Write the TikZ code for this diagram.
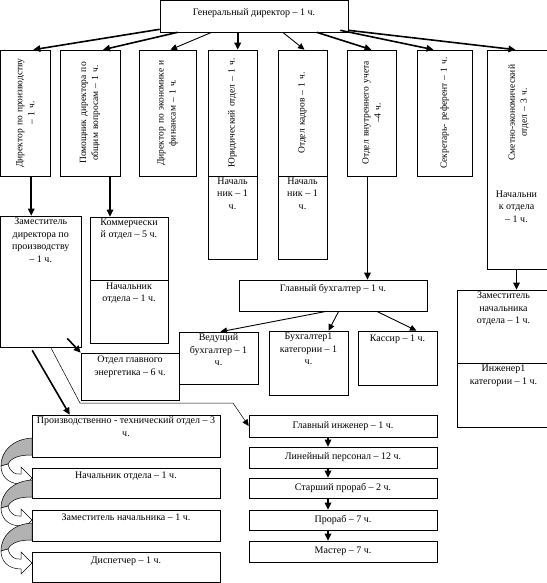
\documentclass[tikz,border=0pt]{standalone}
\usepackage{fontspec}
\setmainfont{Liberation Serif}
\usetikzlibrary{positioning, fit, calc, arrows.meta}

\begin{document}
\begin{tikzpicture}[
		x=1pt, y=-1pt,
		font=\fontsize{10}{12.5}\selectfont,
		% Boxes and their texts
		box/.style={draw, line width=0.6pt, inner sep=0pt},
		txt/.style={align=center, inner sep=1pt},
		vtxt/.style={rotate=90, align=center, text width=124pt, inner sep=0pt,
			font=\fontsize{9.5}{12}\selectfont},
		% Connector styles
		heavy/.style={-{Triangle[length=7pt, width=6.5pt]}, line width=1.6pt},
		light/.style={-{Triangle[length=6.5pt, width=6pt]}, line width=0.9pt},
		hair/.style={-{Triangle[length=6.5pt, width=6pt]}, line width=0.5pt},
		% Curved block arrows on the left
		turnback/.style={draw, line width=0.5pt, fill=black!30},
		turnfront/.style={draw, line width=0.5pt, fill=white}
		]
		\useasboundingbox (0,0) rectangle (546,583);
		
		% ==============================================================================
		% 1. GENERAL DIRECTOR
		% ==============================================================================
		\node[box, fit={(160,0.5)(348,32)}] (gd) {};
		\node[txt] (gd-t) at ([yshift=3pt]gd.center) {Генеральный директор – 1 ч.};
		
		% ==============================================================================
		% 2. SECOND LEVEL (vertical boxes)
		% ==============================================================================
		\node[box, fit={(0.5,50)(50,176)}] (dprod) {};
		\node[vtxt] (dprod-t) at (dprod) {Директор по производству\\– 1 ч.};
		
		\node[box, fit={(60,50)(120,176)}] (pom) {};
		\node[vtxt] (pom-t) at (pom) {Помощник директора по\\общим вопросам – 1 ч.};
		
		\node[box, fit={(139,50)(196,176)}] (econ) {};
		\node[vtxt] (econ-t) at (econ) {Директор по экономике и\\финансам – 1 ч.};
		
		\node[box, fit={(208,50)(257,176)}] (jur) {};
		\node[vtxt] (jur-t) at (jur) {Юридический отдел – 1 ч.};
		\node[box, fit={(208,176)(257,259)}] (jurn) {};
		\node[txt, below=1pt of jurn.north] (jurn-t) {Началь\\ник – 1\\ч.};
		
		\node[box, fit={(278,50)(327,176)}] (kadr) {};
		\node[vtxt] (kadr-t) at (kadr) {Отдел кадров – 1 ч.};
		\node[box, fit={(278,176)(327,259)}] (kadrn) {};
		\node[txt, below=1pt of kadrn.north] (kadrn-t) {Началь\\ник – 1\\ч.};
		
		\node[box, fit={(347,50)(396,176)}] (vnutr) {};
		\node[vtxt] (vnutr-t) at (vnutr) {Отдел внутреннего учета\\–4 ч.};
		
		\node[box, fit={(417,50)(472,176)}] (sekr) {};
		\node[vtxt] (sekr-t) at (sekr) {Секретарь- референт – 1 ч.};
		
		\node[box, fit={(487,50)(550,269)}] (smet) {};
		\node[vtxt] (smet-t) at ($(smet.north)+(0,63)$) {Сметно-экономический\\отдел – 3 ч.};
		\node[txt, anchor=north] (smetn-t) at ($(smet.north)+(-2,140)$) {Начальни\\к отдела\\– 1 ч.};
		
		% ==============================================================================
		% 3. THIRD LEVEL
		% ==============================================================================
		\node[box, fit={(0.5,216)(81,347)}] (zam) {};
		\node[txt, below=1pt of zam.north] (zam-t) {Заместитель\\директора по\\производству\\– 1 ч.};
		
		\node[box, fit={(90,217)(168,280)}] (komm) {};
		\node[txt, below=1pt of komm.north] (komm-t) {Коммерчески\\й отдел – 5 ч.};
		\node[box, fit={(90,280)(168,343)}] (kommn) {};
		\node[txt, below=2pt of kommn.north] (kommn-t) {Начальник\\отдела – 1 ч.};
		
		\node[box, fit={(239,280)(427,311)}] (buh) {};
		\node[txt, below=3pt of buh.north] (buh-t) {Главный бухгалтер – 1 ч.};
		
		\node[box, fit={(179,332)(258,384)}] (ved) {};
		\node[txt, below=1pt of ved.north] (ved-t) {Ведущий\\бухгалтер – 1\\ч.};
		\node[box, fit={(269,331)(348,395)}] (buh1) {};
		\node[txt, below=1pt of buh1.north] (buh1-t) {Бухгалтер1\\категории – 1\\ч.};
		\node[box, fit={(358,331)(437,385)}] (kass) {};
		\node[txt, below=3pt of kass.north] (kass-t) {Кассир – 1 ч.};
		
		\node[box, fit={(81,353)(179,400)}] (energ) {};
		\node[txt, below=2pt of energ.north] (energ-t) {Отдел главного\\энергетика – 6 ч.};
		
		\node[box, fit={(457,290)(550,363)}] (zamnach) {};
		\node[txt, below=1pt of zamnach.north] (zamnach-t) {Заместитель\\начальника\\отдела – 1 ч.};
		\node[box, fit={(457,363)(550,427)}] (ing) {};
		\node[txt, below=1pt of ing.north] (ing-t) {Инженер1\\категории – 1 ч.};
		
		% ==============================================================================
		% 4. PRODUCTION CHAINS
		% ==============================================================================
		\node[box, fit={(32,415)(220,457)}] (pto) {};
		\node[txt, below=1pt of pto.north] (pto-t) {Производственно - технический отдел – 3\\ч.};
		\node[box, fit={(32,468)(220,498)}] (nach) {};
		\node[txt, below=3pt of nach.north] (nach-t) {Начальник отдела – 1 ч.};
		\node[box, fit={(32,510)(220,541)}] (zamn) {};
		\node[txt, below=3pt of zamn.north] (zamn-t) {Заместитель начальника – 1 ч.};
		\node[box, fit={(32,552)(220,582)}] (disp) {};
		\node[txt, below=4pt of disp.north] (disp-t) {Диспетчер – 1 ч.};
		
		\node[box, fit={(249,415)(437,437)}] (gi) {};
		\node[txt] (gi-t) at (gi) {Главный инженер – 1 ч.};
		\node[box, fit={(249,447)(437,468)}] (lin) {};
		\node[txt] (lin-t) at (lin) {Линейный персонал – 12 ч.};
		\node[box, fit={(249,478)(437,498)}] (stpr) {};
		\node[txt] (stpr-t) at (stpr) {Старший прораб – 2 ч.};
		\node[box, fit={(249,510)(437,530)}] (pr) {};
		\node[txt] (pr-t) at (pr) {Прораб – 7 ч.};
		\node[box, fit={(249,541)(437,562)}] (mast) {};
		\node[txt] (mast-t) at (mast) {Мастер – 7 ч.};
		
		% ==============================================================================
		% 5. ARROWS
		% ==============================================================================
		\draw[heavy] ($(gd.south west)+(0,-3)$) -- ($(dprod.north)+(8,0)$);
		\draw[heavy] ($(gd.south west)+(18,0)$) -- ($(pom.north)+(13,0)$);
		\draw[light] ($(gd.south west)+(52,0)$) -- ($(econ.north)+(3,0)$);
		\coordinate (gd-j) at ($(gd.south west)+(78,0)$);
		\draw[heavy] (gd-j) -- (gd-j |- jur.north);
		\draw[light] ($(gd.south west)+(123,0)$) -- ($(kadr.north)+(2,0)$);
		\draw[heavy] ($(gd.south west)+(157,0)$) -- (vnutr.north);
		\draw[heavy] ($(gd.south east)+(-8,-2)$) -- ($(sekr.north)+(-11,0)$);
		\draw[heavy] ($(gd.south east)+(0,-2)$) -- ($(smet.north)+(-3,0)$);
		
		\coordinate (dp-s) at ($(dprod.south)+(6,0)$);
		\draw[heavy] (dp-s) -- (dp-s |- zam.north);
		\coordinate (pm-s) at ($(pom.south)+(20,0)$);
		\draw[heavy] (pm-s) -- (pm-s |- komm.north);
		\coordinate (vu-s) at ($(vnutr.south)+(-4,0)$);
		\draw[heavy] (vu-s) -- (vu-s |- buh.north);
		\coordinate (sm-s) at ($(smet.south)+(-2,0)$);
		\draw[heavy] (sm-s) -- (sm-s |- zamnach.north);
		
		\draw[light] ($(buh.south west)+(88,0)$) -- ($(ved.north)+(2,0)$);
		\draw[light] ($(buh.south west)+(100,0)$) -- ($(buh1.north)+(20,0)$);
		\draw[light] ($(buh.south west)+(138,0)$) -- ($(kass.north)+(19,0)$);
		
		\draw[heavy] ($(zam.south west)+(67,-9)$) -- (energ.north west);
		\draw[heavy] ($(zam.south west)+(32,3)$) -- ($(pto.north west)+(38,0)$);
		\coordinate (zk1) at (80,403);
		\coordinate (zk2) at (233,403);
		\draw[hair] ($(zam.south west)+(51,1)$) -- (zk1) -- (zk2) -- (gi.west);
		
		\foreach \a/\b in {gi/lin, lin/stpr, stpr/pr, pr/mast} {
			\coordinate (\a-s) at ($(\a.south)+(-15,0)$);
			\draw[heavy] (\a-s) -- (\a-s |- \b.north);
		}
		
		% curved block arrows between the boxes of the left chain
		\foreach \dy in {0,42,85} {
			\begin{scope}[shift={(0,\dy)}]
				\draw[turnback] (32,438) .. controls (14,439) and (1,450) .. (1,466) -- (8,464) .. controls (12,457) and (20,455) .. (32,455) -- cycle;
				\draw[turnfront] (8,464) .. controls (10,472) and (15,475) .. (21,474) -- (21,467) -- (32,478) -- (21,489) -- (21,484) .. controls (8,484) and (1,476) .. (1,466) -- cycle;
			\end{scope}
		}
	\end{tikzpicture}
\end{document}
